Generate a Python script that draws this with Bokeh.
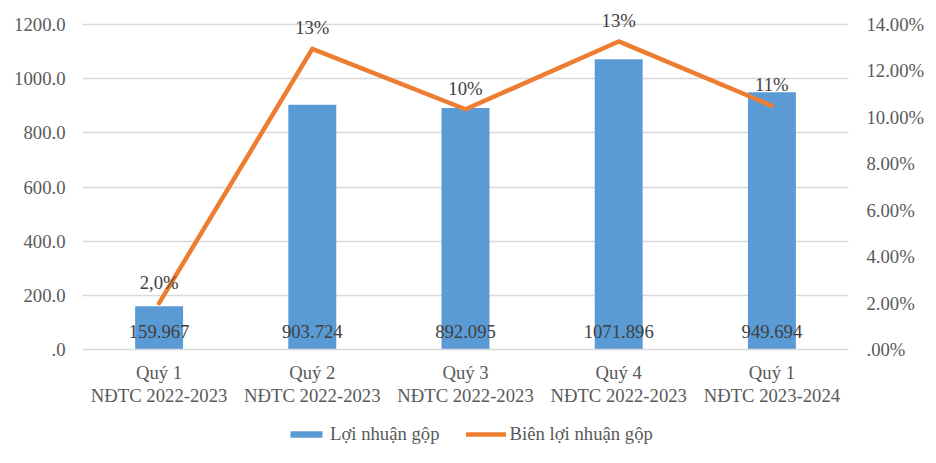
from bokeh.plotting import figure
from bokeh.layouts import column
from bokeh.models import (Range1d, LinearAxis, FixedTicker, Legend, LegendItem,
                          ColumnDataSource, FactorRange)
from bokeh.embed import file_html
from bokeh.resources import INLINE
from bokeh.core.properties import value

# ---- data ----
categories = [
    "Quý 1\nNĐTC 2022-2023",
    "Quý 2\nNĐTC 2022-2023",
    "Quý 3\nNĐTC 2022-2023",
    "Quý 4\nNĐTC 2022-2023",
    "Quý 1\nNĐTC 2023-2024",
]
gross_profit = [159.967, 903.724, 892.095, 1071.896, 949.694]
gross_profit_labels = ["159.967", "903.724", "892.095", "1071.896", "949.694"]
gross_margin = [2.0, 12.95, 10.35, 13.27, 10.5]
gross_margin_labels = ["2,0%", "13%", "10%", "13%", "11%"]
left_ticks = [0, 200, 400, 600, 800, 1000, 1200]
left_tick_labels = [".0", "200.0", "400.0", "600.0", "800.0", "1000.0", "1200.0"]
right_ticks = [0, 2, 4, 6, 8, 10, 12, 14]
right_tick_labels = [".00%", "2.00%", "4.00%", "6.00%", "8.00%", "10.00%", "12.00%", "14.00%"]
series_names = ["Lợi nhuận gộp", "Biên lợi nhuận gộp"]

FONT = value("Liberation Serif")
FONT_NAME = "Liberation Serif"
FS = "18.7px"
TICK_COLOR = "#595959"
LABEL_COLOR = "#404040"
BAR_COLOR = "#5B9BD5"
LINE_COLOR = "#ED7D31"
GRID_COLOR = "#D9D9D9"

# frame: gridded area is 325px tall; the frame extends 24px higher so that
# labels above the top points are not clipped
GRID_PX = 325
TOP_PAD_PX = 24
ext = (GRID_PX + TOP_PAD_PX) / GRID_PX

src = ColumnDataSource(dict(
    cat=categories,
    gp=gross_profit,
    gp_lbl=gross_profit_labels,
    gm=gross_margin,
    gm_lbl=gross_margin_labels,
    zero=[0] * len(categories),
))

p = figure(
    width=920, height=416,
    frame_width=766, frame_height=GRID_PX + TOP_PAD_PX,
    x_range=FactorRange(*categories),
    y_range=Range1d(left_ticks[0], left_ticks[-1] * ext),
    output_backend="svg", toolbar_location=None,
    min_border_left=82, min_border_right=72, min_border_top=0, min_border_bottom=67,
)
p.extra_y_ranges = {"pct": Range1d(right_ticks[0], right_ticks[-1] * ext)}
p.outline_line_color = None
p.background_fill_color = "white"
p.border_fill_color = "white"

bars = p.vbar(x="cat", top="gp", width=0.313, source=src,
              fill_color=BAR_COLOR, line_color=None)
p.text(x="cat", y="zero", text="gp_lbl", source=src, text_font=FONT,
       text_font_size=FS, text_color=LABEL_COLOR, text_align="center",
       text_baseline="middle", y_offset=-18)

line = p.line(x="cat", y="gm", source=src, y_range_name="pct",
              line_color=LINE_COLOR, line_width=4.5, line_join="round", line_cap="round")
p.text(x="cat", y="gm", text="gm_lbl", source=src, y_range_name="pct",
       text_font=FONT, text_font_size=FS, text_color=LABEL_COLOR,
       text_align="center", text_baseline="middle", y_offset=-21)

# left axis
yax = p.yaxis[0]
yax.ticker = FixedTicker(ticks=left_ticks)
yax.major_label_overrides = {t: l for t, l in zip(left_ticks, left_tick_labels)}
yax.axis_line_color = None
yax.major_tick_line_color = None
yax.minor_tick_line_color = None
yax.major_label_text_font = FONT_NAME
yax.major_label_text_font_size = FS
yax.major_label_text_color = TICK_COLOR
yax.major_label_standoff = 11

# right axis
rax = LinearAxis(y_range_name="pct", ticker=FixedTicker(ticks=right_ticks))
rax.major_label_overrides = {t: l for t, l in zip(right_ticks, right_tick_labels)}
rax.axis_line_color = None
rax.major_tick_line_color = None
rax.minor_tick_line_color = None
rax.major_label_text_font = FONT_NAME
rax.major_label_text_font_size = FS
rax.major_label_text_color = TICK_COLOR
rax.major_label_standoff = 12
p.add_layout(rax, "right")

# x axis
xax = p.xaxis[0]
xax.axis_line_color = GRID_COLOR
xax.axis_line_width = 1.5
xax.major_tick_line_color = None
xax.minor_tick_line_color = None
xax.major_label_text_font = FONT_NAME
xax.major_label_text_font_size = FS
xax.major_label_text_color = TICK_COLOR
xax.major_label_standoff = 6
xax.major_label_text_line_height = 1.1

p.xgrid.grid_line_color = None
p.ygrid.ticker = FixedTicker(ticks=left_ticks)
p.ygrid.grid_line_color = GRID_COLOR
p.ygrid.grid_line_width = 1.5

# ---- legend strip (separate figure; its swatch renderers sit outside its ranges) ----
lg = figure(width=920, height=36, x_range=Range1d(1, 2), y_range=Range1d(1, 2),
            output_backend="svg", toolbar_location=None,
            min_border_left=0, min_border_right=0, min_border_top=0, min_border_bottom=0)
lg.axis.visible = False
lg.grid.grid_line_color = None
lg.outline_line_color = None
lg.background_fill_color = "white"
lg_bar = lg.vbar(x=[0], top=[0], bottom=[0], width=0.1, fill_color=BAR_COLOR, line_color=None)
lg_line = lg.line(x=[0, 0], y=[0, 0], line_color=LINE_COLOR, line_width=4.5, line_cap="round")

legend = Legend(
    items=[LegendItem(label=series_names[0], renderers=[lg_bar]),
           LegendItem(label=series_names[1], renderers=[lg_line])],
    orientation="horizontal", location=(204, 7),
    label_text_font=FONT_NAME, label_text_font_size=FS,
    label_text_color=TICK_COLOR, glyph_width=40, glyph_height=8, label_height=20,
    label_standoff=4, spacing=26, border_line_color=None,
    background_fill_alpha=0, margin=0, padding=0,
)
lg.add_layout(legend, "center")

layout = column(p, lg)
open("out.html", "w").write(file_html(layout, INLINE))
